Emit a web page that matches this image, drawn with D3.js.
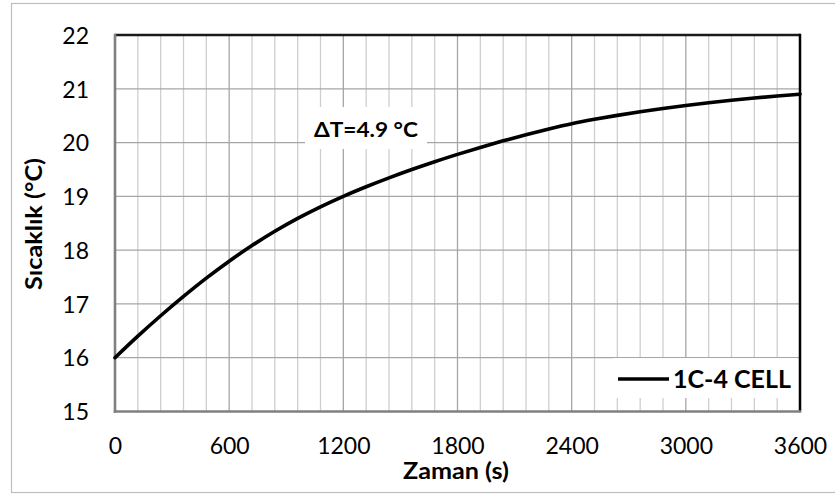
<!DOCTYPE html>
<html>
<head>
<meta charset="utf-8">
<script src="https://cdn.jsdelivr.net/npm/d3@7"></script>
<style>
  html, body { margin: 0; padding: 0; background: #fff; }
  svg { display: block; font-family: Lato, "Open Sans", sans-serif; }
</style>
</head>
<body>
<svg id="chart" width="835" height="495"></svg>
<script>
// ---- data ----
const times = [0,120,240,360,480,600,720,840,960,1080,1200,1320,1440,1560,1680,1800,1920,2040,2160,2280,2400,2520,2640,2760,2880,3000,3120,3240,3360,3480,3600];
const temps = [16.00,16.40,16.78,17.14,17.48,17.795,18.085,18.35,18.59,18.805,19.00,19.178,19.344,19.499,19.644,19.78,19.91,20.032,20.146,20.252,20.35,20.432,20.506,20.573,20.635,20.69,20.74,20.786,20.828,20.866,20.90];
const xTicks = [0,600,1200,1800,2400,3000,3600];
const xMinor = d3.range(0, 3601, 120);
const yTicks = [15,16,17,18,19,20,21,22];
const seriesName = "1C-4 CELL";
const annotation = "ΔT=4.9 °C";
const xTitle = "Zaman (s)";
const yTitle = "Sıcaklık (°C)";

const svg = d3.select("#chart");
const L = 115, R = 800, T = 35, B = 411.5;
const x = d3.scaleLinear().domain([0, 3600]).range([L, R]);
const y = d3.scaleLinear().domain([15, 22]).range([B, T]);

// outer chart border
svg.append("rect").attr("x", 11.5).attr("y", 3.5).attr("width", 840).attr("height", 489)
  .attr("fill", "#fff").attr("stroke", "#bdbdbd").attr("stroke-width", 1.2);

// minor vertical grid
svg.append("g").selectAll("line").data(xMinor.filter(d => d % 600 !== 0)).join("line")
  .attr("x1", d => x(d)).attr("x2", d => x(d)).attr("y1", T).attr("y2", B)
  .attr("stroke", "#cfcfcf").attr("stroke-width", 1.3);
// major vertical grid
svg.append("g").selectAll("line").data(xTicks.slice(1, -1)).join("line")
  .attr("x1", d => x(d)).attr("x2", d => x(d)).attr("y1", T).attr("y2", B)
  .attr("stroke", "#a6a6a6").attr("stroke-width", 1.3);
// horizontal grid
svg.append("g").selectAll("line").data(yTicks.slice(1, -1)).join("line")
  .attr("x1", L).attr("x2", R).attr("y1", d => y(d)).attr("y2", d => y(d))
  .attr("stroke", "#a6a6a6").attr("stroke-width", 1.3);

// annotation box (white background)
const annX = 366, annY = 137;
svg.append("rect").attr("x", 305).attr("y", 107).attr("width", 122).attr("height", 42).attr("fill", "#fff");

// legend box
svg.append("rect").attr("x", 613).attr("y", 358).attr("width", 185).attr("height", 40).attr("fill", "#fff");

// frame: top/right black, left/bottom gray axes
svg.append("line").attr("x1", L).attr("x2", R).attr("y1", T).attr("y2", T).attr("stroke", "#1a1a1a").attr("stroke-width", 2.5);
svg.append("line").attr("x1", R).attr("x2", R).attr("y1", T - 1.2).attr("y2", B).attr("stroke", "#000").attr("stroke-width", 2.5);

// axes via d3
const xAxis = svg.append("g").attr("transform", `translate(0,${B})`)
  .call(d3.axisBottom(x).tickValues(xTicks).tickSize(0).tickPadding(26).tickFormat(d3.format("d")));
const yAxis = svg.append("g").attr("transform", `translate(${L},0)`)
  .call(d3.axisLeft(y).tickValues(yTicks).tickSize(0).tickPadding(26).tickFormat(d3.format("d")));
[xAxis, yAxis].forEach(g => {
  g.select(".domain").attr("stroke", "#808080").attr("stroke-width", 2.6);
  g.selectAll("text").attr("font-family", "Lato, sans-serif").attr("font-size", 23).attr("fill", "#000");
});
xAxis.select(".domain").attr("d", `M${L - 1.3},0H${R + 1.2}`);
yAxis.select(".domain").attr("d", `M0,${T - 1.2}V${B + 1.3}`);
xAxis.selectAll("text").attr("dy", "0.71em");
yAxis.selectAll("text").attr("dy", "0.36em");

// curve
const data = times.map((t, i) => ({ t, v: temps[i] }));
svg.append("path").datum(data)
  .attr("d", d3.line().x(d => x(d.t)).y(d => y(d.v)).curve(d3.curveMonotoneX))
  .attr("fill", "none").attr("stroke", "#000").attr("stroke-width", 3.6).attr("stroke-linecap", "round");

// annotation text
svg.append("text").attr("x", annX).attr("y", annY).attr("text-anchor", "middle")
  .attr("font-weight", 700).attr("font-size", 21.5)
  .attr("textLength", 104).attr("lengthAdjust", "spacingAndGlyphs").text(annotation);

// legend
svg.append("line").attr("x1", 618).attr("x2", 669).attr("y1", 379).attr("y2", 379)
  .attr("stroke", "#000").attr("stroke-width", 3.6);
svg.append("text").attr("x", 673).attr("y", 388).attr("font-weight", 700).attr("font-size", 25)
  .attr("textLength", 118).attr("lengthAdjust", "spacingAndGlyphs").text(seriesName);

// axis titles
svg.append("text").attr("x", 456).attr("y", 479).attr("text-anchor", "middle")
  .attr("font-weight", 700).attr("font-size", 22)
  .attr("textLength", 106).attr("lengthAdjust", "spacingAndGlyphs").text(xTitle);
svg.append("text").attr("transform", "translate(42,224) rotate(-90)").attr("text-anchor", "middle")
  .attr("font-weight", 700).attr("font-size", 22)
  .attr("textLength", 132).attr("lengthAdjust", "spacingAndGlyphs").text(yTitle);
</script>
</body>
</html>
